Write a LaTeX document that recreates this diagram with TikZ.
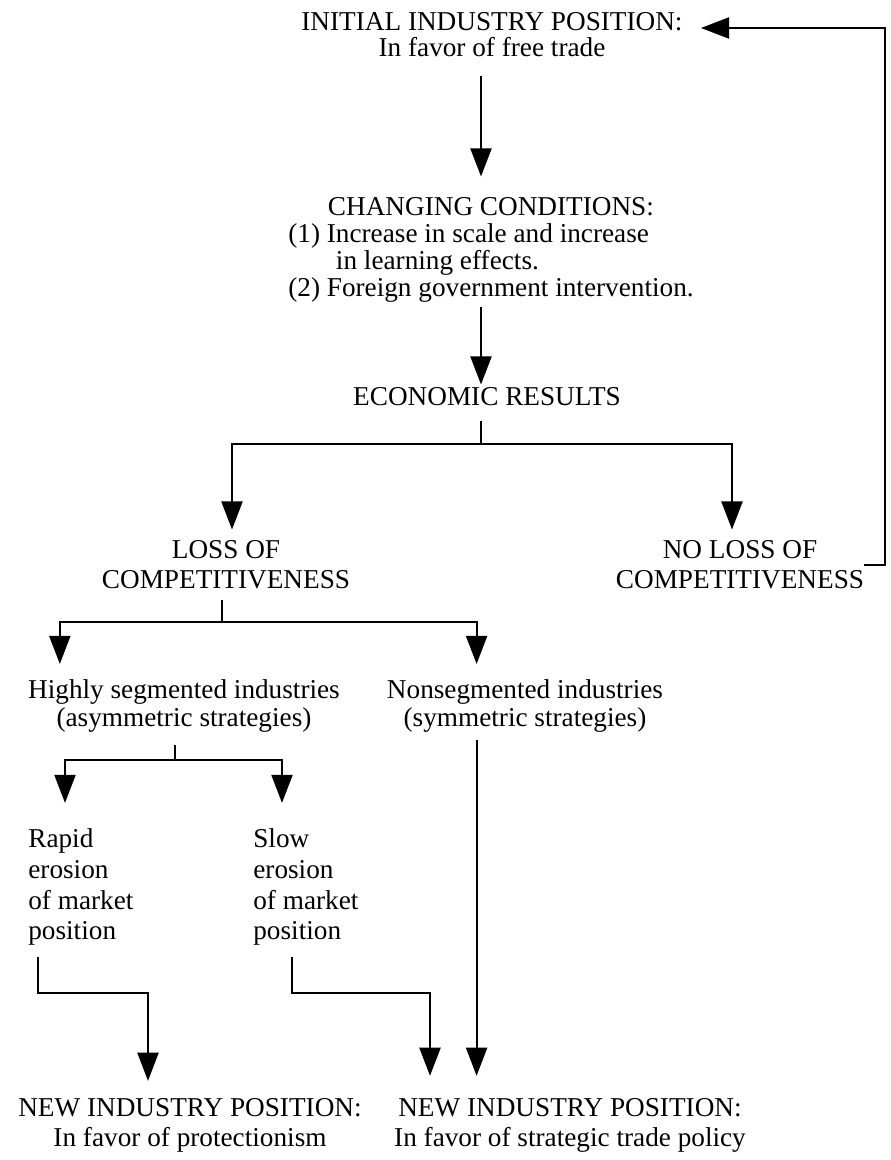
\documentclass[tikz,border=0pt]{standalone}
\usepackage{fontspec}
\setmainfont{Liberation Serif}
\usetikzlibrary{arrows.meta}

\begin{document}
\begin{tikzpicture}[x=0.02cm, y=-0.02cm,
    txt/.style={inner sep=0pt, align=center, font=\fontsize{15.5}{14.8}\selectfont},
    link/.style={line width=1.1pt},
    flow/.style={link, -{Triangle[width=12pt,length=16pt]}}]
    \useasboundingbox (0,0) rectangle (891,1160);

    % positions
    \node[txt] (init) at (492,35) {INITIAL INDUSTRY POSITION:\\In favor of free trade};
    \node[txt] (cond) at (491,251) {CHANGING CONDITIONS:\\[0.5pt]
        \begin{tabular}[t]{@{}l@{}}
        (1) Increase in scale and increase\\
        \hspace*{1.75em}in learning effects.\\
        (2) Foreign government intervention.
        \end{tabular}};
    \node[txt] (econ) at (487,397) {ECONOMIC RESULTS};
    \node[txt] (loss) at (226,565) {LOSS OF\\[2.2pt]COMPETITIVENESS};
    \node[txt] (noloss) at (740,565) {NO LOSS OF\\[2.2pt]COMPETITIVENESS};
    \node[txt] (highly) at (184,706) {Highly segmented industries\\[1.5pt](asymmetric strategies)};
    \node[txt] (nonseg) at (525,706) {Nonsegmented industries\\[1.5pt](symmetric strategies)};
    \node[txt, anchor=west, align=left] (rapid) at (28,887) {Rapid\\[2.8pt]erosion\\[2.8pt]of market\\[2.8pt]position};
    \node[txt, anchor=west, align=left] (slow) at (253,887) {Slow\\[2.8pt]erosion\\[2.8pt]of market\\[2.8pt]position};
    \node[txt] (newA) at (190,1125) {NEW INDUSTRY POSITION:\\[2.2pt]In favor of protectionism};
    \node[txt] (newB) at (570,1125) {NEW INDUSTRY POSITION:\\[2.2pt]In favor of strategic trade policy};

    % junctions
    \coordinate (econsplit) at (481,444);
    \coordinate (losssplit) at (222,622);
    \coordinate (highsplit) at (175,760);
    \coordinate (rapidbend) at (148,993);
    \coordinate (slowbend) at (430,993);
    \coordinate (fbcorner) at (885,28);

    % down the middle
    \draw[flow, shorten <=0.36cm, shorten >=0.42cm] (init.south -| econsplit) -- (cond.north -| econsplit);
    \draw[flow, shorten <=0.05cm, shorten >=0.06cm] (cond.south -| econsplit) -- (econ.north -| econsplit);
    \draw[link, shorten <=0.28cm] (econ.south -| econsplit) -- (econsplit);
    \draw[flow, shorten >=0.22cm] (econsplit) -| ([xshift=0.12cm]loss.north);
    \draw[flow, shorten >=0.22cm] (econsplit) -| ([xshift=-0.16cm]noloss.north);

    % loss of competitiveness
    \draw[link, shorten <=0.2cm] (loss.south -| losssplit) -- (losssplit);
    \draw[flow, shorten >=0.3cm] (losssplit) -| ([xshift=0.64cm]highly.north west);
    \draw[flow, shorten >=0.3cm] (losssplit) -| ([xshift=1.8cm]nonseg.north west);

    % segmented industries
    \draw[link, shorten <=0.24cm] (highly.south -| highsplit) -- (highsplit);
    \draw[flow, shorten >=0.5cm] (highsplit) -| ([xshift=0.74cm]rapid.north west);
    \draw[flow, shorten >=0.5cm] (highsplit) -| ([xshift=0.58cm]slow.north west);

    % new positions
    \draw[flow, shorten <=0.22cm, shorten >=0.34cm] ([xshift=0.2cm]rapid.south west) |- (rapidbend) -- (newA.north -| rapidbend);
    \draw[flow, shorten <=0.22cm, shorten >=0.44cm] ([xshift=0.78cm]slow.south west) |- (slowbend) -- (newB.north -| slowbend);
    \draw[flow, shorten <=0.14cm, shorten >=0.44cm] ([xshift=1.8cm]nonseg.south west) -- ([xshift=1.8cm]nonseg.south west |- newB.north);

    % back to the start
    \draw[flow, shorten >=0.36cm] (noloss.east) -| (fbcorner) -- (fbcorner -| init.east);
\end{tikzpicture}
\end{document}
